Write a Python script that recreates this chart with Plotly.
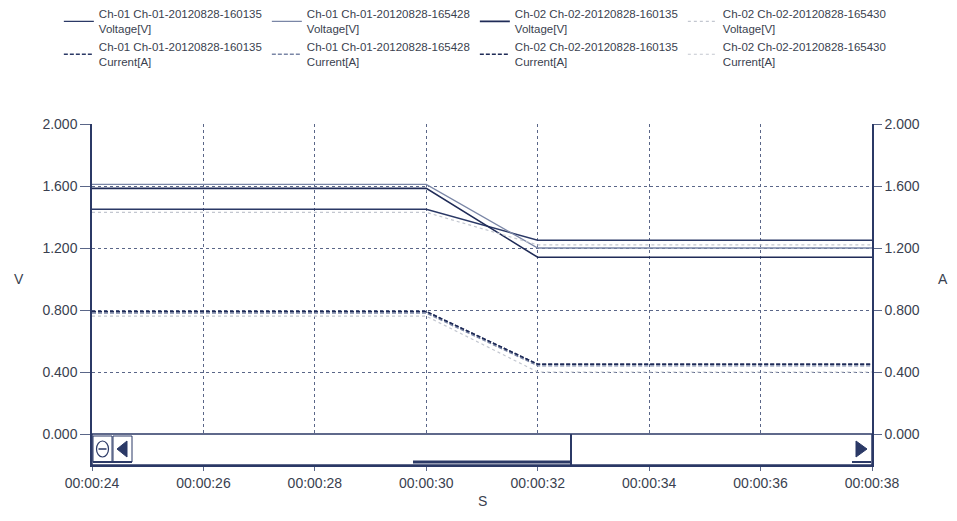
import plotly.graph_objects as go

# ---- data ----
times = ["2012-08-28 00:00:24", "2012-08-28 00:00:30", "2012-08-28 00:00:32", "2012-08-28 00:00:38"]

series_names = [
    "Ch-01 Ch-01-20120828-160135",
    "Ch-01 Ch-01-20120828-165428",
    "Ch-02 Ch-02-20120828-160135",
    "Ch-02 Ch-02-20120828-165430",
]

v_ch01_160135 = [1.45, 1.45, 1.25, 1.25]
v_ch01_165428 = [1.61, 1.61, 1.20, 1.20]
v_ch02_160135 = [1.585, 1.585, 1.14, 1.14]
v_ch02_165430 = [1.43, 1.43, 1.22, 1.22]

i_ch01_160135 = [0.79, 0.79, 0.45, 0.45]
i_ch01_165428 = [0.78, 0.78, 0.44, 0.44]
i_ch02_160135 = [0.79, 0.79, 0.45, 0.45]
i_ch02_165430 = [0.76, 0.76, 0.40, 0.40]

voltages = [v_ch01_160135, v_ch01_165428, v_ch02_160135, v_ch02_165430]
currents = [i_ch01_160135, i_ch01_165428, i_ch02_160135, i_ch02_165430]

y_ticks = [0.0, 0.4, 0.8, 1.2, 1.6, 2.0]
y_ticktext = ["0.000", "0.400", "0.800", "1.200", "1.600", "2.000"]

colors = ["#2b3966", "#7a86a6", "#1f2b57", "#c3c7d0"]
widths = [1.3, 1.3, 1.6, 1.2]
v_dash = ["solid", "solid", "solid", "dot"]
i_dash = ["4px,2px", "4px,2px", "4px,2px", "dot"]

FONT = "Liberation Sans, Arial, sans-serif"
TXT = "#3a3f4f"

fig = go.Figure()
for k in range(4):
    fig.add_trace(go.Scatter(
        x=times, y=voltages[k], mode="lines",
        name=series_names[k] + "<br>Voltage[V]",
        line=dict(color=colors[k], width=widths[k], dash=v_dash[k]),
        yaxis="y",
    ))
for k in range(4):
    fig.add_trace(go.Scatter(
        x=times, y=currents[k], mode="lines",
        name=series_names[k] + "<br>Current[A]",
        line=dict(color=colors[k], width=widths[k], dash=i_dash[k]),
        yaxis="y2",
    ))

grid = "#5a6688"
axis_col = "#2b3966"

fig.update_layout(
    width=949, height=513,
    margin=dict(l=84, r=85, t=116, b=56, autoexpand=False),
    paper_bgcolor="white", plot_bgcolor="white",
    font=dict(family=FONT, size=14, color=TXT),
    showlegend=True,
    legend=dict(
        orientation="h", x=-0.0425, xanchor="left", y=1.364, yanchor="top",
        entrywidth=163, entrywidthmode="pixels",
        font=dict(family=FONT, size=11.5, color=TXT),
        tracegroupgap=0, itemwidth=30,
        bgcolor="rgba(0,0,0,0)",
    ),
    xaxis=dict(
        type="date",
        range=["2012-08-28 00:00:24", "2012-08-28 00:00:38"],
        tick0="2012-08-28 00:00:24", dtick=2000,
        tickformat="%H:%M:%S",
        showgrid=True, gridcolor=grid, griddash="dot", gridwidth=1,
        showline=True, linecolor=axis_col, linewidth=1.5, mirror=False,
        ticks="outside", ticklen=4, tickcolor=grid,
        tickfont=dict(family=FONT, size=14, color=TXT),
        zeroline=False, automargin=False,
    ),
    yaxis=dict(
        range=[-0.2, 2.0], tickvals=y_ticks, ticktext=y_ticktext,
        showgrid=True, gridcolor=grid, griddash="dot", gridwidth=1,
        showline=True, linecolor=axis_col, linewidth=1.5,
        ticks="outside", ticklen=10, tickcolor=grid,
        tickfont=dict(family=FONT, size=14, color=TXT),
        zeroline=False, automargin=False,
    ),
    yaxis2=dict(
        range=[-0.2, 2.0], tickvals=y_ticks, ticktext=y_ticktext,
        overlaying="y", side="right",
        showgrid=False,
        showline=True, linecolor=axis_col, linewidth=1.5,
        ticks="outside", ticklen=8, tickcolor=grid,
        tickfont=dict(family=FONT, size=14, color=TXT),
        zeroline=False, automargin=False,
    ),
)

# axis titles as annotations
fig.add_annotation(text="V", xref="paper", yref="paper", x=-0.103, y=0.545,
                   showarrow=False, font=dict(family=FONT, size=14, color=TXT))
fig.add_annotation(text="A", xref="paper", yref="paper", x=1.1, y=0.545,
                   showarrow=False, font=dict(family=FONT, size=14, color=TXT))
fig.add_annotation(text="S", xref="paper", yref="paper", x=0.5, y=-0.135,
                   showarrow=False, font=dict(family=FONT, size=14, color=TXT))

# scrollbar decoration (paper coords; screen pixels mapped to the plot area)
W, H = 780.0, 341.0
def px(x):
    return (x - 92) / W
def py(y):
    return (465 - y) / H

fig.add_shape(type="rect", xref="paper", yref="paper",
              x0=0, x1=1, y0=0, y1=py(434), fillcolor="white",
              line=dict(color=axis_col, width=1.5), layer="above")
fig.add_shape(type="rect", xref="paper", yref="paper",
              x0=px(93), x1=px(112), y0=py(462), y1=py(436),
              line=dict(color=axis_col, width=1), layer="above")
fig.add_shape(type="rect", xref="paper", yref="paper",
              x0=px(113), x1=px(132), y0=py(462), y1=py(436),
              line=dict(color=axis_col, width=1), layer="above")
fig.add_shape(type="line", xref="paper", yref="paper",
              x0=px(571), x1=px(571), y0=0, y1=py(434),
              line=dict(color=axis_col, width=2), layer="above")
fig.add_shape(type="line", xref="paper", yref="paper",
              x0=px(413), x1=px(571), y0=py(462), y1=py(462),
              line=dict(color=axis_col, width=3), layer="above")
fig.add_shape(type="line", xref="paper", yref="paper",
              x0=px(93), x1=px(132), y0=py(462), y1=py(462),
              line=dict(color=axis_col, width=2), layer="above")
fig.add_shape(type="line", xref="paper", yref="paper",
              x0=px(852), x1=px(871), y0=py(462), y1=py(462),
              line=dict(color=axis_col, width=2), layer="above")
# "minus in circle" button
fig.add_shape(type="circle", xref="paper", yref="paper",
              x0=px(96.5), x1=px(108.5), y0=py(457), y1=py(441),
              line=dict(color=axis_col, width=1.2), layer="above")
fig.add_shape(type="line", xref="paper", yref="paper",
              x0=px(98.5), x1=px(106.5), y0=py(449), y1=py(449),
              line=dict(color=axis_col, width=1.5), layer="above")
# triangles
fig.add_shape(type="path", xref="paper", yref="paper",
              path=f"M {px(117)} {py(449)} L {px(127)} {py(441)} L {px(127)} {py(457)} Z",
              fillcolor=axis_col, line=dict(color=axis_col, width=1), layer="above")
fig.add_shape(type="path", xref="paper", yref="paper",
              path=f"M {px(856)} {py(441)} L {px(856)} {py(457)} L {px(867)} {py(449)} Z",
              fillcolor=axis_col, line=dict(color=axis_col, width=1), layer="above")

fig.write_html("out.html")
